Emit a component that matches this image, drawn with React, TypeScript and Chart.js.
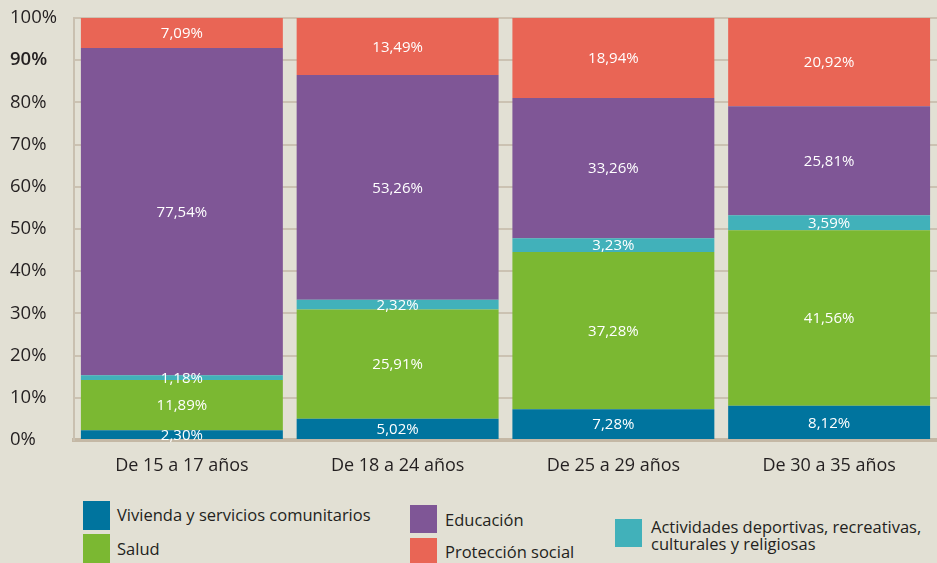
import React, { useEffect, useRef } from "react";
import { Chart, registerables } from "chart.js";

Chart.register(...registerables);

const categories = ["De 15 a 17 años", "De 18 a 24 años", "De 25 a 29 años", "De 30 a 35 años"];
const vivienda = [2.3, 5.02, 7.28, 8.12];
const salud = [11.89, 25.91, 37.28, 41.56];
const actividades = [1.18, 2.32, 3.23, 3.59];
const educacion = [77.54, 53.26, 33.26, 25.81];
const proteccion = [7.09, 13.49, 18.94, 20.92];
const yTicks = [0, 10, 20, 30, 40, 50, 60, 70, 80, 90, 100];

const seriesNames = [
  "Vivienda y servicios comunitarios",
  "Salud",
  "Actividades deportivas, recreativas, culturales y religiosas",
  "Educación",
  "Protección social",
];

const COLORS = {
  vivienda: "#00749e",
  salud: "#7bb832",
  actividades: "#41b1ba",
  educacion: "#7f5696",
  proteccion: "#e96555",
};

const FONT = "'Open Sans', 'Noto Sans', sans-serif";
const TEXT = "#231f20";

const fmt = (v: number) => v.toFixed(2).replace(".", ",") + "%";

const labelPlugin = {
  id: "segLabels",
  afterDatasetsDraw(chart: any) {
    const ctx = chart.ctx;
    ctx.save();
    ctx.fillStyle = "#ffffff";
    ctx.font = `15px ${FONT}`;
    ctx.textAlign = "center";
    ctx.textBaseline = "middle";
    chart.data.datasets.forEach((ds: any, di: number) => {
      const meta = chart.getDatasetMeta(di);
      meta.data.forEach((el: any, i: number) => {
        const { x, y, base } = el.getProps(["x", "y", "base"], true);
        ctx.fillText(fmt(ds.data[i]), x, (y + base) / 2 + 1);
      });
    });
    ctx.restore();
  },
};

export default function App() {
  const ref = useRef<HTMLCanvasElement | null>(null);

  useEffect(() => {
    if (!ref.current) return;
    const chart = new Chart(ref.current, {
      type: "bar",
      data: {
        labels: categories,
        datasets: [
          { label: seriesNames[0], data: vivienda, backgroundColor: COLORS.vivienda },
          { label: seriesNames[1], data: salud, backgroundColor: COLORS.salud },
          { label: seriesNames[2], data: actividades, backgroundColor: COLORS.actividades },
          { label: seriesNames[3], data: educacion, backgroundColor: COLORS.educacion },
          { label: seriesNames[4], data: proteccion, backgroundColor: COLORS.proteccion },
        ],
      },
      plugins: [labelPlugin],
      options: {
        animation: false,
        responsive: false,
        devicePixelRatio: 1,
        layout: { padding: { left: 10, top: 18, right: 0, bottom: 0 } },
        datasets: {
          bar: { barPercentage: 0.936, categoryPercentage: 1, borderWidth: 0 },
        },
        plugins: { legend: { display: false }, tooltip: { enabled: false } },
        scales: {
          x: {
            stacked: true,
            grid: { display: false, drawTicks: false },
            border: { display: true, color: "#c4b8a5", width: 4 },
            ticks: { color: TEXT, font: { family: FONT, size: 18 }, padding: 15 },
            afterFit: (s: any) => {
              s.height = 50;
            },
          },
          y: {
            stacked: true,
            min: 0,
            max: 100,
            afterBuildTicks: (s: any) => {
              s.ticks = yTicks.map((v) => ({ value: v }));
            },
            grid: { color: "#cbc2b2", lineWidth: 2, drawTicks: false },
            border: { display: true, color: "#c9c0b0", width: 2 },
            ticks: {
              color: TEXT,
              crossAlign: "far",
              padding: 0,
              font: (c: any) => ({
                family: FONT,
                size: 18.5,
                weight: c.tick && c.tick.value === 90 ? "600" : "normal",
              }),
              callback: (v: any) => v + "%",
            },
            afterFit: (s: any) => {
              s.width = 64;
            },
          },
        },
      } as any,
    });
    return () => chart.destroy();
  }, []);

  const legendText: React.CSSProperties = {
    position: "absolute",
    fontFamily: FONT,
    fontSize: 16.5,
    color: TEXT,
    lineHeight: "17px",
    whiteSpace: "nowrap",
  };
  const sw = (left: number, top: number, color: string, h = 29): React.CSSProperties => ({
    position: "absolute",
    left,
    top,
    width: 27,
    height: h,
    background: color,
  });

  return (
    <div
      style={{
        position: "absolute",
        left: 0,
        top: 0,
        width: 937,
        height: 563,
        overflow: "hidden",
        background: "#e2e0d4",
      }}
    >
      <canvas ref={ref} width={937} height={490} style={{ position: "absolute", left: 0, top: 0 }} />
      <div style={sw(83, 501, COLORS.vivienda)} />
      <div style={{ ...legendText, left: 117, top: 506 }}>{seriesNames[0]}</div>
      <div style={sw(83, 534, COLORS.salud)} />
      <div style={{ ...legendText, left: 117, top: 540 }}>{seriesNames[1]}</div>
      <div style={sw(410, 505, COLORS.educacion, 28)} />
      <div style={{ ...legendText, left: 445, top: 511 }}>{seriesNames[3]}</div>
      <div style={sw(410, 538, COLORS.proteccion, 28)} />
      <div style={{ ...legendText, left: 445, top: 543 }}>{seriesNames[4]}</div>
      <div style={sw(615, 519, COLORS.actividades, 28)} />
      <div style={{ ...legendText, left: 651, top: 518 }}>
        Actividades deportivas, recreativas,
        <br />
        culturales y religiosas
      </div>
    </div>
  );
}
